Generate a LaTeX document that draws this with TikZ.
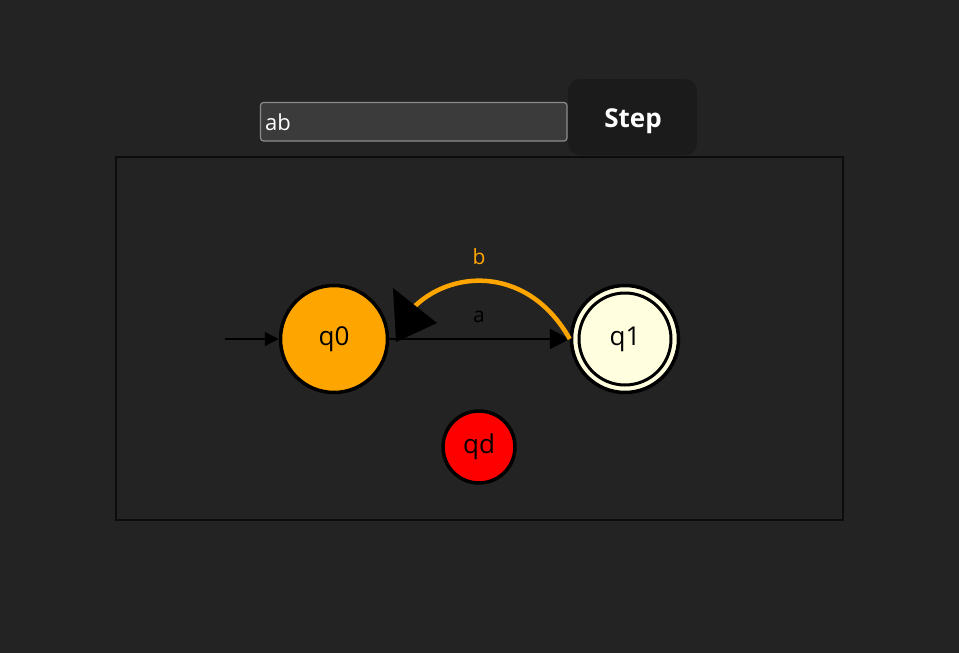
\documentclass[tikz,border=0pt]{standalone}
\usepackage{fontspec}
\setmainfont{Open Sans}
\usetikzlibrary{arrows.meta}
\definecolor{bg}{HTML}{232323}
\definecolor{inputbg}{HTML}{3B3B3B}
\definecolor{inputbd}{HTML}{8C8C8C}
\definecolor{btnbg}{HTML}{1B1B1B}
\definecolor{frame}{HTML}{0C0C0C}
\definecolor{orangeC}{HTML}{FFA500}
\definecolor{lyellow}{HTML}{FFFFE0}
\tikzset{
  statebase/.style={circle, draw=black, line width=3.5pt, inner sep=0pt, font=\fontsize{26}{30}\selectfont, text=black},
  edgelab/.style={font=\fontsize{21}{25}\selectfont},
}
\begin{document}
\begin{tikzpicture}[x=1pt,y=-1pt]
\fill[bg] (0,0) rectangle (959,653);
\useasboundingbox (0,0) rectangle (959,653);
% input
\draw[inputbd, fill=inputbg, line width=1.2pt, rounded corners=3pt] (260.5,102.5) rectangle (567,141);
\node[anchor=west, text=white, font=\fontsize{22}{26}\selectfont, inner sep=0pt] (inp) at (265,122) {ab};
% button
\fill[btnbg, rounded corners=12pt] (568,79) rectangle (697,155);
\node[text=white, font=\fontsize{26}{30}\selectfont\bfseries] (btn) at (633,121) {Step};
% frame
\draw[frame, line width=1.2pt] (116,157) rectangle (843,520);
% states
\node[statebase, fill=orangeC, minimum size=107pt] (q0) at (334,339) {q0};
\node[statebase, fill=lyellow, minimum size=107pt] (q1) at (625,339) {};
\draw[black, line width=3pt] (q1.center) circle (46pt);
\node[font=\fontsize{26}{30}\selectfont, text=black] (q1l) at (625,339) {q1};
\node[statebase, fill=red, minimum size=72pt] (qd) at (479,447) {qd};
% initial
\coordinate (init) at (225,339);
\draw[line width=1.6pt, -{Triangle[length=14pt,width=14pt]}] (init) -- (q0.west);
% edge a
\draw[line width=2.6pt, -{Triangle[length=20pt,width=20pt]}] (q0.east) -- (q1.west);
\node[edgelab, text=black] (la) at (479,317) {a};
% edge b
\coordinate (bend) at (415,306);
\draw[orangeC, line width=4.5pt] (q1.west) .. controls (530,268) and (455,268) .. (bend);
\fill[black] (393,288) -- (437,323) -- (396,342) -- cycle;
\node[edgelab, text=orangeC] (lb) at (479,257) {b};
\end{tikzpicture}
\end{document}
